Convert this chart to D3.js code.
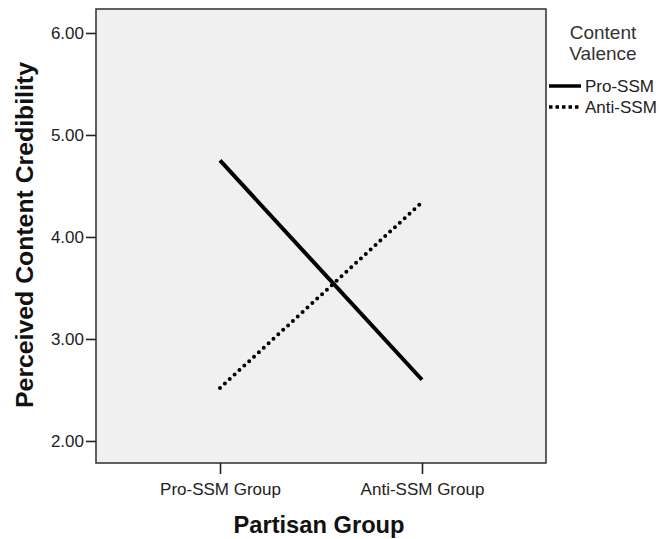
<!DOCTYPE html>
<html><head><meta charset="utf-8">
<script src="https://cdn.jsdelivr.net/npm/d3@7"></script>
<style>body{margin:0;background:#fff;}svg{display:block;font-family:"Liberation Sans",Arial,sans-serif;}</style>
</head><body><div id="c"></div>
<script>
const categories = ["Pro-SSM Group", "Anti-SSM Group"];
const seriesNames = ["Pro-SSM", "Anti-SSM"];
const proSSM = [4.75, 2.60];
const antiSSM = [2.52, 4.34];
const yTicks = [2, 3, 4, 5, 6];

const W = 661, H = 539;
const m = {l: 96, t: 9, r: 546, b: 463};
const svg = d3.select("#c").append("svg").attr("width", W).attr("height", H);

const x = d3.scalePoint().domain(categories).range([m.l, m.r]).padding(0.614);
const y = d3.scaleLinear().domain([1.784, 6.235]).range([m.b, m.t]);

svg.append("rect").attr("x", m.l).attr("y", m.t).attr("width", m.r - m.l).attr("height", m.b - m.t)
  .attr("fill", "#f0f0f0").attr("stroke", "#3a3a3a").attr("stroke-width", 1.6);

const yAxis = svg.append("g").attr("transform", `translate(${m.l},0)`)
  .call(d3.axisLeft(y).tickValues(yTicks).tickFormat(d3.format(".2f")).tickSize(10).tickPadding(2));
yAxis.select(".domain").remove();
yAxis.selectAll("line").attr("stroke", "#222").attr("stroke-width", 1.6);
yAxis.selectAll("text").attr("font-size", 17).attr("fill", "#222").attr("font-family", "Liberation Sans, Arial");

const xAxis = svg.append("g").attr("transform", `translate(0,${m.b})`)
  .call(d3.axisBottom(x).tickSize(11).tickPadding(9));
xAxis.select(".domain").remove();
xAxis.selectAll("line").attr("stroke", "#222").attr("stroke-width", 1.6);
xAxis.selectAll("text").attr("font-size", 17).attr("fill", "#222").attr("font-family", "Liberation Sans, Arial");

const line = d3.line().x((d, i) => x(categories[i])).y(d => y(d));
svg.append("path").datum(proSSM).attr("d", line).attr("fill", "none").attr("stroke", "#000").attr("stroke-width", 4);
svg.append("path").datum(antiSSM).attr("d", line).attr("fill", "none").attr("stroke", "#000")
  .attr("stroke-width", 4).attr("stroke-dasharray", "0,6.6").attr("stroke-linecap", "round");

svg.append("text").attr("x", 319).attr("y", 533).attr("text-anchor", "middle")
  .attr("font-size", 23.7).attr("font-weight", "bold").attr("fill", "#111").text("Partisan Group");
svg.append("text").attr("transform", `translate(33,235) rotate(-90)`).attr("text-anchor", "middle")
  .attr("font-size", 24.8).attr("font-weight", "bold").attr("fill", "#111").text("Perceived Content Credibility");

// legend
const lg = svg.append("g");
lg.append("text").attr("x", 603).attr("y", 39).attr("text-anchor", "middle").attr("font-size", 19).attr("fill", "#333").text("Content");
lg.append("text").attr("x", 603).attr("y", 60).attr("text-anchor", "middle").attr("font-size", 19).attr("fill", "#333").text("Valence");
const ly = [86, 107];
seriesNames.forEach((s, i) => {
  const l = lg.append("line").attr("x1", 549).attr("x2", 581).attr("y1", ly[i]).attr("y2", ly[i])
    .attr("stroke", "#000").attr("stroke-width", 3.5);
  if (i === 1) l.attr("stroke-dasharray", "3.5,3");
  lg.append("text").attr("x", 585).attr("y", ly[i] + 6).attr("font-size", 17).attr("fill", "#222").text(s);
});
</script></body></html>
